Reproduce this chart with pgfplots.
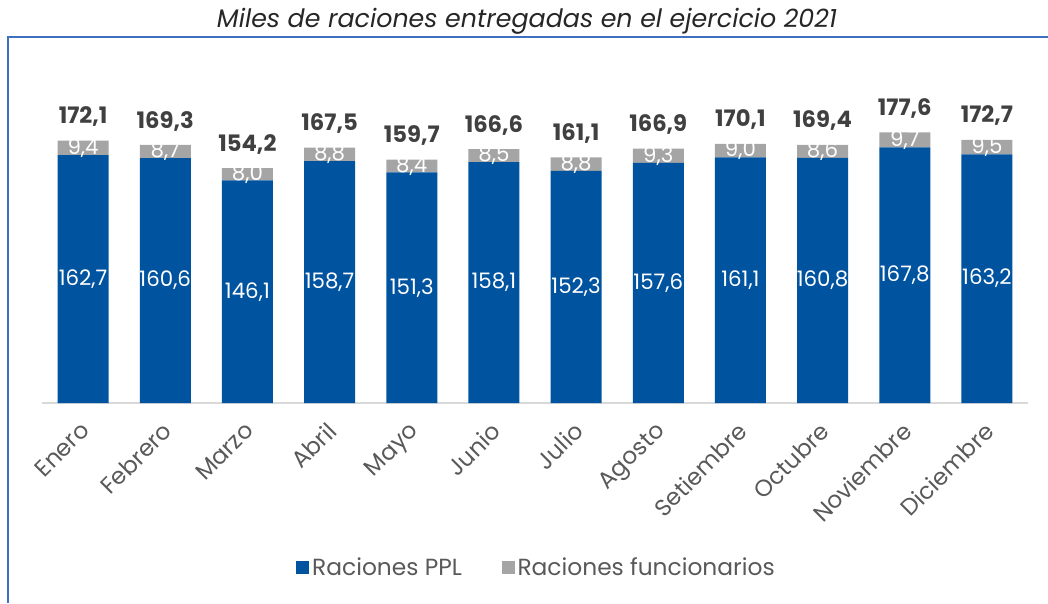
\documentclass[border=0pt]{standalone}
\usepackage{pgfplots}
\pgfplotsset{compat=1.18}
\usepackage{pgfplotstable}
\usepackage{fontspec}
\setmainfont{Poppins}
\definecolor{ppl}{HTML}{00539F}
\definecolor{fun}{HTML}{A5A5A5}
\definecolor{txt}{HTML}{595959}
\definecolor{tot}{HTML}{404040}
\definecolor{frame}{HTML}{3F6FBF}
\pgfplotstableread{
x ppl fun tot
0 162.7 9.4 172.1
1 160.6 8.7 169.3
2 146.1 8.0 154.2
3 158.7 8.8 167.5
4 151.3 8.4 159.7
5 158.1 8.5 166.6
6 152.3 8.8 161.1
7 157.6 9.3 166.9
8 161.1 9.0 170.1
9 160.8 8.6 169.4
10 167.8 9.7 177.6
11 163.2 9.5 172.7
}\datatable
\begin{document}
\begin{tikzpicture}
\path[use as bounding box] (0,0) rectangle (786pt,452.25pt);
\draw[frame, line width=1.6pt] (6pt,0) -- (6pt,424.5pt) -- (786pt,424.5pt);
\node[font=\fontsize{19}{21}\selectfont\itshape, text=black!85] at (395.25pt,436.5pt) {Miles de raciones entregadas en el ejercicio 2021};
\pgfplotsset{
  common/.style={
    at={(31.5pt,150pt)}, anchor=south west,
    scale only axis, width=739.5pt, height=228.6pt,
    xmin=-0.5, xmax=11.5, ymin=0, ymax=200,
    clip=false,
  }
}
\begin{axis}[common,
  ybar stacked, bar width=38.25pt,
  axis y line=none,
  axis x line*=bottom,
  x axis line style={draw=black!15, line width=1pt, -},
  xtick=data, major tick length=0pt,
  xticklabels={Enero,Febrero,Marzo,Abril,Mayo,Junio,Julio,Agosto,Setiembre,Octubre,Noviembre,Diciembre},
  x tick label style={yshift=-13pt, xshift=-3pt, rotate=45, anchor=north east, inner sep=0pt, font=\fontsize{17.5}{19}\selectfont, text=txt},
  legend columns=2,
  legend style={at={(0.502,-0.541)}, anchor=center, draw=none, fill=none,
    font=\fontsize{17.5}{19}\selectfont, text=txt,
    /tikz/every even column/.append style={column sep=28pt}},
  legend image code/.code={\fill[#1] (0pt,-4.9pt) rectangle (9.75pt,4.9pt);},
]
\addplot[fill=ppl, draw=none] table[x=x, y=ppl] {\datatable};
\addlegendentry{Raciones PPL}
\addplot[fill=fun, draw=none] table[x=x, y=fun] {\datatable};
\addlegendentry{Raciones funcionarios}
\end{axis}
\begin{axis}[common, hide axis,
  /pgf/number format/.cd, fixed, fixed zerofill, precision=1, use comma, assume math mode=true,
]
\addplot[draw=none, mark=none, nodes near coords, point meta=explicit,
  every node near coord/.append style={anchor=center, text=white, font=\fontsize{16}{18}\selectfont}]
  table[x=x, y expr=\thisrow{ppl}/2, meta=ppl] {\datatable};
\addplot[draw=none, mark=none, nodes near coords, point meta=explicit,
  every node near coord/.append style={anchor=center, text=white, font=\fontsize{16}{18}\selectfont}]
  table[x=x, y expr=\thisrow{ppl}+\thisrow{fun}/2, meta=fun] {\datatable};
\addplot[draw=none, mark=none, nodes near coords, point meta=explicit,
  every node near coord/.append style={anchor=south, yshift=7pt, text=tot, font=\fontsize{17}{19}\selectfont\bfseries}]
  table[x=x, y=tot, meta=tot] {\datatable};
\end{axis}
\end{tikzpicture}
\end{document}
